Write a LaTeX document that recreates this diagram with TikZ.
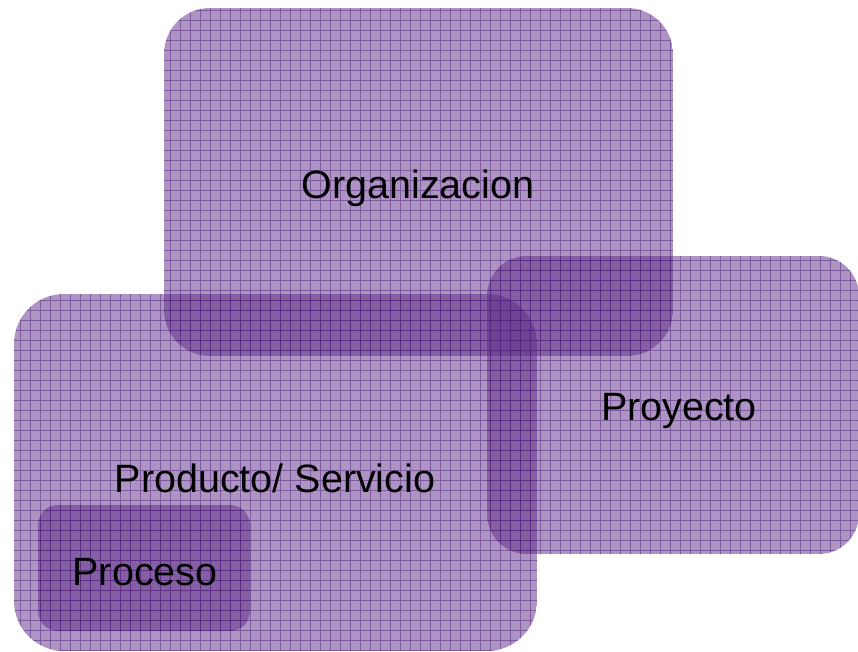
\documentclass[tikz,border=0pt]{standalone}
\usepackage{fontspec}
\setmainfont{Liberation Sans}
\begin{document}
\begin{tikzpicture}[x=1pt,y=-1pt,
  boxfill/.style={fill=boxcol,fill opacity=0.5},
  gridline/.style={draw=gridcol,line width=0.9pt,opacity=0.5},
  lbl/.style={font=\fontsize{39.5}{44}\selectfont,text=black,inner sep=0pt}]
\definecolor{boxcol}{HTML}{5B2A86}
\definecolor{gridcol}{HTML}{4E1F7A}
\useasboundingbox (0,0) rectangle (858,652);
\newcommand\gridbox[5]{%
  \begin{scope}
    \clip[rounded corners=#5] (#1,#2) rectangle (#3,#4);
    \fill[boxfill] (#1,#2) rectangle (#3,#4);
    \draw[gridline,step=10pt] (#1-10,#2-10) grid (#3+10,#4+10);
  \end{scope}}
\gridbox{164}{8}{673}{356}{46pt}
\gridbox{487}{256}{859}{554}{40pt}
\gridbox{14}{294}{537}{651}{50pt}
\gridbox{38}{505}{250}{631}{20pt}
\node[lbl] (org) at (418,188) {Organizacion};
\node[lbl] (proy) at (679,411) {Proyecto};
\node[lbl] (prod) at (275,478) {Producto/ Servicio};
\node[lbl] (proc) at (145,572) {Proceso};
\end{tikzpicture}
\end{document}
